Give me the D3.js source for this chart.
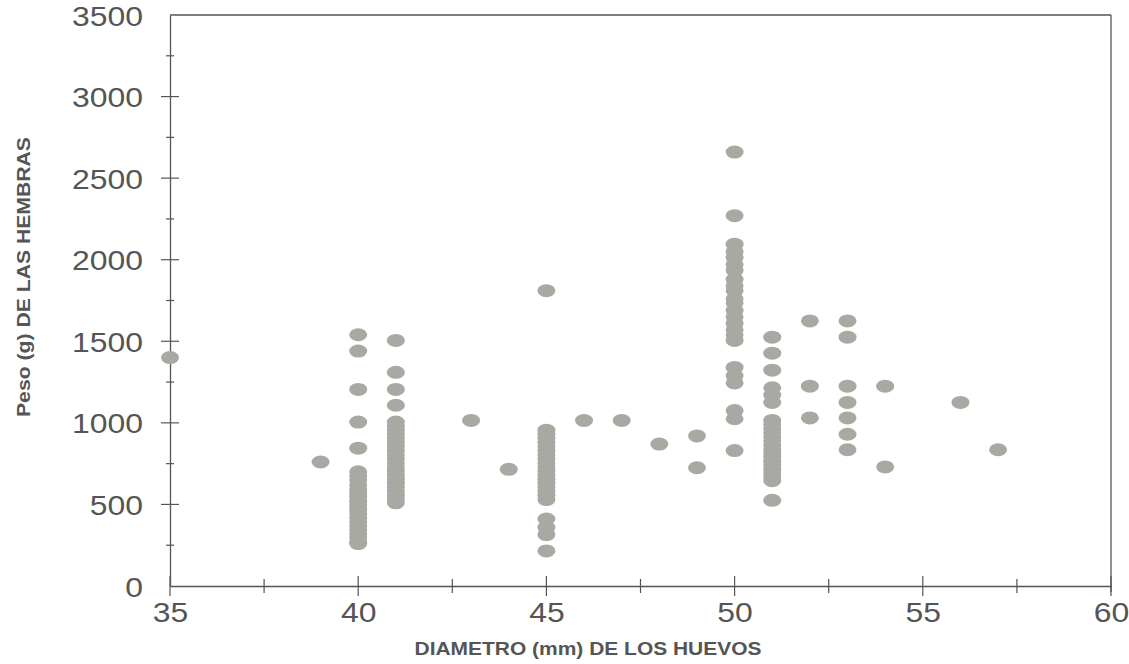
<!DOCTYPE html>
<meta charset="utf-8">
<script src="https://d3js.org/d3.v7.min.js"></script>
<style>
  body { margin: 0; background: #fff; }
  text { font-family: "Liberation Sans", Arial, sans-serif; fill: #555; }
</style>
<body></body>
<script>
  // diameter classes (mm) and the female weights (g) read at each one
  var diametros = [35, 39, 40, 41, 43, 44, 45, 46, 47, 48, 49, 50, 51, 52, 53, 54, 56, 57];
  var pesos = [
    [1400],
    [760],
    [1540, 1440, 1205, 1005, 845, 700, 675, 650, 620, 595, 570, 545, 520, 495, 470, 445, 420, 395, 370, 345, 320, 295, 270, 260],
    [1505, 1310, 1205, 1108, 1005, 980, 955, 930, 905, 880, 855, 830, 805, 780, 755, 730, 705, 680, 655, 630, 605, 580, 555, 530, 510],
    [1015],
    [715],
    [1810, 955, 930, 905, 880, 855, 830, 805, 780, 755, 730, 705, 680, 655, 630, 605, 580, 555, 530, 410, 360, 315, 215],
    [1015],
    [1015],
    [870],
    [920, 725],
    [2660, 2270, 2095, 2050, 2015, 1970, 1935, 1880, 1840, 1810, 1760, 1735, 1690, 1650, 1610, 1570, 1540, 1505, 1340, 1290, 1245, 1075, 1025, 830],
    [1525, 1427, 1323, 1215, 1170, 1125, 1015, 990, 965, 940, 915, 890, 865, 840, 815, 790, 765, 740, 715, 690, 665, 645, 525],
    [1625, 1225, 1030],
    [1625, 1525, 1225, 1125, 1030, 930, 835],
    [1225, 730],
    [1125],
    [835]
  ];
  var xTicks = [35, 40, 45, 50, 55, 60];
  var xMinor = [37.5, 42.5, 47.5, 52.5, 57.5];
  var yTicks = [0, 500, 1000, 1500, 2000, 2500, 3000, 3500];
  var yMinor = [250, 750, 1250, 1750, 2250, 2750, 3250];

  var width = 1129, height = 664;
  var ink = '#555';
  var stretch = 1.14; // the scanned glyphs are wider than normal
  var svg = d3.select('body').append('svg')
    .attr('width', width).attr('height', height);

  var x = d3.scaleLinear().domain([35, 60]).range([170, 1111]);
  var y = d3.scaleLinear().domain([0, 3500]).range([586, 15]);

  function widen(sel) {
    sel.each(function() {
      var len = this.getComputedTextLength();
      d3.select(this).attr('textLength', len * stretch).attr('lengthAdjust', 'spacingAndGlyphs');
    });
  }

  // flatten into points
  var puntos = [];
  diametros.forEach(function(d, i) {
    pesos[i].forEach(function(p) { puntos.push({d: d, p: p}); });
  });

  // frame: top and right border
  svg.append('line').attr('x1', x(35)).attr('x2', x(60)).attr('y1', y(3500)).attr('y2', y(3500))
    .attr('stroke', ink).attr('stroke-width', 1.3);
  svg.append('line').attr('x1', x(60)).attr('x2', x(60)).attr('y1', y(3500)).attr('y2', y(0) + 6)
    .attr('stroke', ink).attr('stroke-width', 1.3);

  // x axis
  var xAxis = svg.append('g').attr('transform', 'translate(0,' + y(0) + ')')
    .call(d3.axisBottom(x).tickValues(xTicks).tickSize(0).tickPadding(16).tickFormat(d3.format('d')));
  xAxis.select('.domain').attr('stroke', ink).attr('stroke-width', 1.3);
  xAxis.selectAll('text').style('font-size', '28px').attr('fill', ink).call(widen);
  xAxis.selectAll('.major').data(xTicks).enter().append('line')
    .attr('x1', x).attr('x2', x).attr('y1', -10).attr('y2', 10)
    .attr('stroke', ink).attr('stroke-width', 1.2);
  xAxis.selectAll('.minor').data(xMinor).enter().append('line')
    .attr('x1', x).attr('x2', x).attr('y1', -7).attr('y2', 7)
    .attr('stroke', ink).attr('stroke-width', 1.2);

  // y axis
  var yAxis = svg.append('g').attr('transform', 'translate(' + x(35) + ',0)')
    .call(d3.axisLeft(y).tickValues(yTicks).tickSize(0).tickPadding(27).tickFormat(d3.format('d')));
  yAxis.select('.domain').attr('stroke', ink).attr('stroke-width', 1.3);
  yAxis.selectAll('text').style('font-size', '28px').attr('fill', ink).attr('dy', '0.36em').call(widen);
  yAxis.selectAll('.major').data(yTicks.slice(1, -1)).enter().append('line')
    .attr('x1', -9).attr('x2', 9).attr('y1', y).attr('y2', y)
    .attr('stroke', ink).attr('stroke-width', 1.2);
  yAxis.selectAll('.minor').data(yMinor).enter().append('line')
    .attr('x1', -4).attr('x2', 4).attr('y1', y).attr('y2', y)
    .attr('stroke', ink).attr('stroke-width', 1.2);

  // points
  svg.append('g').selectAll('ellipse').data(puntos).enter().append('ellipse')
    .attr('cx', function(d) { return x(d.d); })
    .attr('cy', function(d) { return y(d.p); })
    .attr('rx', 9).attr('ry', 6.5)
    .attr('fill', '#a9a9a4');

  // axis titles
  svg.append('text')
    .attr('x', 588).attr('y', 655)
    .attr('text-anchor', 'middle')
    .attr('textLength', 347).attr('lengthAdjust', 'spacingAndGlyphs')
    .style('font-size', '18px').style('font-weight', 'bold')
    .text('DIAMETRO (mm) DE LOS HUEVOS');
  svg.append('text')
    .attr('transform', 'translate(30,277) rotate(-90)')
    .attr('text-anchor', 'middle')
    .attr('textLength', 280).attr('lengthAdjust', 'spacingAndGlyphs')
    .style('font-size', '19px').style('font-weight', 'bold')
    .text('Peso (g) DE LAS HEMBRAS');
</script>
